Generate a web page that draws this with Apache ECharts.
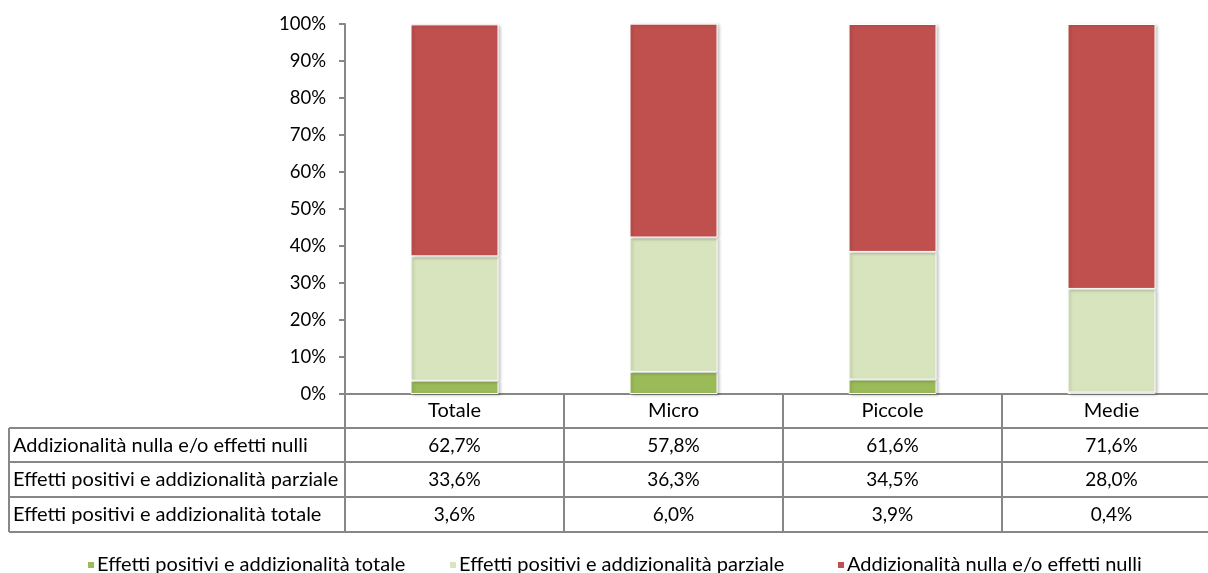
<!DOCTYPE html>
<html><head><meta charset="utf-8">
<script src="https://cdn.jsdelivr.net/npm/echarts@6/dist/echarts.min.js"></script>
<style>html,body{margin:0;padding:0;background:#fff;overflow:hidden}#c{width:1221px;height:573px}</style>
</head><body><div id="c"></div>
<script>
const categories = ['Totale', 'Micro', 'Piccole', 'Medie'];
const seriesNames = ['Effetti positivi e addizionalità totale', 'Effetti positivi e addizionalità parziale', 'Addizionalità nulla e/o effetti nulli'];
const totale = [3.6, 6.0, 3.9, 0.4];
const parziale = [33.6, 36.3, 34.5, 28.0];
const nulla = [62.7, 57.8, 61.6, 71.6];
const tableRows = [
  {name: 'Addizionalità nulla e/o effetti nulli', values: nulla},
  {name: 'Effetti positivi e addizionalità parziale', values: parziale},
  {name: 'Effetti positivi e addizionalità totale', values: totale}
];
const colors = ['#9BBB59', '#D7E4BD', '#C0504D'];
const FONT = 'Lato';
const chart = echarts.init(document.getElementById('c'));
const fmt = v => v.toFixed(1).replace('.', ',') + '%';
const barStyle = c => ({color: c, borderColor: '#fff', borderWidth: 1, shadowBlur: 3, shadowOffsetX: 2, shadowOffsetY: 1, shadowColor: 'rgba(0,0,0,0.22)'});
const option = {
  animation: false,
  textStyle: {fontFamily: FONT},
  grid: {left: 345, right: 0, top: 24, height: 370},
  xAxis: {type: 'category', data: categories,
    axisLine: {lineStyle: {color: '#878787', width: 2}},
    axisTick: {show: false},
    axisLabel: {color: '#000', fontSize: 20, fontFamily: FONT, margin: 7}},
  yAxis: {type: 'value', min: 0, max: 100, interval: 10,
    axisLine: {show: true, lineStyle: {color: '#878787', width: 2}},
    axisTick: {show: true, inside: false, length: 6, lineStyle: {color: '#878787', width: 2}},
    splitLine: {show: false},
    axisLabel: {color: '#000', fontSize: 18.5, fontFamily: FONT, margin: 19, formatter: '{value}%'}},
  legend: [0,1,2].map((i) => ({data: [seriesNames[i]], left: [86, 448, 836][i], top: 555, padding: 0,
    itemWidth: 8, itemHeight: 8, itemGap: 0, icon: 'rect',
    textStyle: {fontSize: 20, fontFamily: FONT, color: '#000', padding: [0,0,0,-3]}})),
  series: [
    {name: seriesNames[0], type: 'bar', stack: 's', data: totale, barWidth: 88, itemStyle: barStyle(colors[0])},
    {name: seriesNames[1], type: 'bar', stack: 's', data: parziale, barWidth: 88, itemStyle: barStyle(colors[1])},
    {name: seriesNames[2], type: 'bar', stack: 's', data: nulla, barWidth: 88, itemStyle: barStyle(colors[2])}
  ]
};
chart.setOption(option);

// table built from data arrays
const y0 = chart.convertToPixel({yAxisIndex: 0}, 0);
const xs = categories.map((c, i) => chart.convertToPixel({xAxisIndex: 0}, i));
const colW = xs[1] - xs[0];
const leftEdge = xs[0] - colW / 2;
const rowTops = [y0 + 34, y0 + 68, y0 + 103];
const rowH = 35;
const bottom = y0 + 138;
const lineStyle = {stroke: '#878787', lineWidth: 2};
const g = [];
rowTops.concat([bottom]).forEach(y => g.push({type: 'line', shape: {x1: 9, y1: y, x2: 1230, y2: y}, style: lineStyle, z: 10}));
g.push({type: 'line', shape: {x1: 9, y1: rowTops[0], x2: 9, y2: bottom}, style: lineStyle, z: 10});
for (let i = 0; i <= categories.length; i++) {
  const x = leftEdge + i * colW;
  g.push({type: 'line', shape: {x1: x, y1: y0, x2: x, y2: bottom}, style: lineStyle, z: 10});
}
tableRows.forEach((r, ri) => {
  const cy = rowTops[ri] + rowH / 2;
  g.push({type: 'text', x: 13, y: cy, style: {text: r.name, font: '20px ' + FONT, fill: '#000', textVerticalAlign: 'middle', textAlign: 'left'}, z: 11});
  r.values.forEach((v, ci) => {
    g.push({type: 'text', x: xs[ci], y: cy, style: {text: fmt(v), font: '19px ' + FONT, fill: '#000', textVerticalAlign: 'middle', textAlign: 'center'}, z: 11});
  });
});
chart.setOption({graphic: g});
</script></body></html>
